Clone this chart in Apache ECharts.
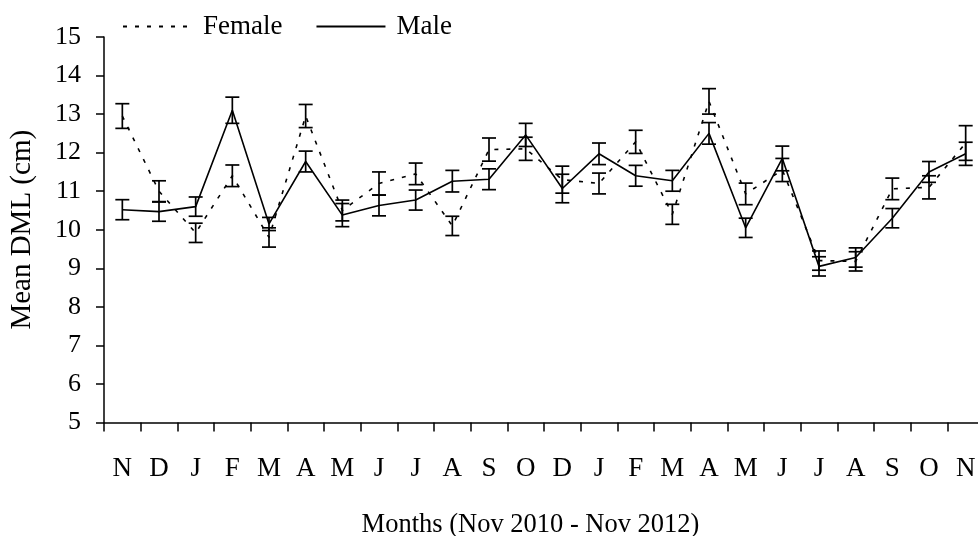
<!DOCTYPE html>
<html>
<head>
<meta charset="utf-8">
<script src="https://cdn.jsdelivr.net/npm/echarts@6/dist/echarts.min.js"></script>
<style>
  html, body { margin: 0; padding: 0; background: #fff; }
  #chart { width: 978px; height: 536px; }
</style>
</head>
<body>
<div id="chart"></div>
<script>
// Monthly mean dorsal mantle length, Nov 2010 - Nov 2012
const months = ['N','D','J','F','M','A','M','J','J','A','S','O',
                'D','J','F','M','A','M','J','J','A','S','O','N'];

const femaleMean = [12.95, 11.0, 9.92, 11.4, 9.8, 12.95, 10.5, 11.2, 11.45, 10.1, 12.08, 12.1,
                    11.3, 11.2, 12.28, 10.4, 13.33, 10.93, 11.55, 9.2, 9.18, 11.06, 11.1, 12.25];
const femaleErr  = [0.32, 0.27, 0.25, 0.28, 0.25, 0.3, 0.27, 0.3, 0.28, 0.25, 0.3, 0.3,
                    0.35, 0.27, 0.3, 0.26, 0.33, 0.28, 0.3, 0.25, 0.25, 0.28, 0.3, 0.45];

const maleMean = [10.52, 10.47, 10.6, 13.1, 10.15, 11.77, 10.38, 10.63, 10.77, 11.26, 11.31, 12.46,
                  11.07, 11.97, 11.4, 11.27, 12.5, 10.05, 11.85, 9.05, 9.28, 10.3, 11.5, 11.97];
const maleErr  = [0.26, 0.25, 0.25, 0.34, 0.17, 0.27, 0.3, 0.27, 0.26, 0.28, 0.27, 0.3,
                  0.37, 0.28, 0.27, 0.27, 0.28, 0.25, 0.32, 0.25, 0.25, 0.25, 0.27, 0.3];

const yTicks = [5, 6, 7, 8, 9, 10, 11, 12, 13, 14, 15];

const FONT = "'Liberation Serif', 'Times New Roman', 'DejaVu Serif', serif";

// [category index, lower bound, upper bound]
function errorData(means, errs) {
  return means.map((m, i) => [i, m - errs[i], m + errs[i]]);
}

function renderErrorBar(params, api) {
  const idx = api.value(0);
  const lo = api.coord([idx, api.value(1)]);
  const hi = api.coord([idx, api.value(2)]);
  const half = 7;
  const style = { stroke: '#000', lineWidth: 1.7 };
  return {
    type: 'group',
    children: [
      { type: 'line', shape: { x1: hi[0], y1: hi[1], x2: lo[0], y2: lo[1] }, style },
      { type: 'line', shape: { x1: hi[0] - half, y1: hi[1], x2: hi[0] + half, y2: hi[1] }, style },
      { type: 'line', shape: { x1: lo[0] - half, y1: lo[1], x2: lo[0] + half, y2: lo[1] }, style }
    ]
  };
}

const chart = echarts.init(document.getElementById('chart'), null, { renderer: 'canvas' });

chart.setOption({
  animation: false,
  backgroundColor: '#fff',
  textStyle: { fontFamily: FONT, color: '#000' },
  legend: {
    data: ['Female', 'Male'],
    left: 122,
    top: 13,
    padding: 0,
    itemWidth: 69,
    itemHeight: 14,
    itemGap: 33,
    itemStyle: { opacity: 0 },
    textStyle: { fontFamily: FONT, fontSize: 27, color: '#000', padding: [0, 0, 0, 6] }
  },
  grid: {
    left: 104, right: -6, top: 37, bottom: 113.5,
    containLabel: false,
    outerBoundsMode: 'none'
  },
  xAxis: {
    type: 'category',
    data: months,
    boundaryGap: true,
    axisLine: { lineStyle: { color: '#000', width: 1.5 } },
    axisTick: { show: true, inside: false, length: 9, lineStyle: { color: '#000', width: 1.5 } },
    axisLabel: { fontFamily: FONT, fontSize: 27, color: '#000', margin: 33, interval: 0 },
    name: 'Months (Nov 2010 - Nov 2012)',
    nameLocation: 'middle',
    nameGap: 89,
    nameTextStyle: { fontFamily: FONT, fontSize: 26.5, color: '#000', padding: [0, 27, 0, 0] }
  },
  yAxis: {
    type: 'value',
    min: yTicks[0],
    max: yTicks[yTicks.length - 1],
    interval: 1,
    splitLine: { show: false },
    axisLine: { show: true, lineStyle: { color: '#000', width: 1.5 } },
    axisTick: { show: true, inside: false, length: 8, lineStyle: { color: '#000', width: 1.5 } },
    axisLabel: { fontFamily: FONT, fontSize: 26, color: '#000', margin: 23 },
    name: 'Mean DML (cm)',
    nameLocation: 'middle',
    nameGap: 67,
    nameTextStyle: { fontFamily: FONT, fontSize: 29, color: '#000' }
  },
  series: [
    {
      name: 'Female',
      type: 'line',
      data: femaleMean,
      symbol: 'none',
      lineStyle: { color: '#000', width: 1.6, type: [4, 8] },
      itemStyle: { color: '#000' },
      z: 3
    },
    {
      name: 'Male',
      type: 'line',
      data: maleMean,
      symbol: 'none',
      lineStyle: { color: '#000', width: 1.6, type: 'solid' },
      itemStyle: { color: '#000' },
      z: 3
    },
    {
      name: 'Female SE',
      type: 'custom',
      renderItem: renderErrorBar,
      data: errorData(femaleMean, femaleErr),
      encode: { x: 0, y: [1, 2] },
      z: 4
    },
    {
      name: 'Male SE',
      type: 'custom',
      renderItem: renderErrorBar,
      data: errorData(maleMean, maleErr),
      encode: { x: 0, y: [1, 2] },
      z: 4
    }
  ]
});
</script>
</body>
</html>
